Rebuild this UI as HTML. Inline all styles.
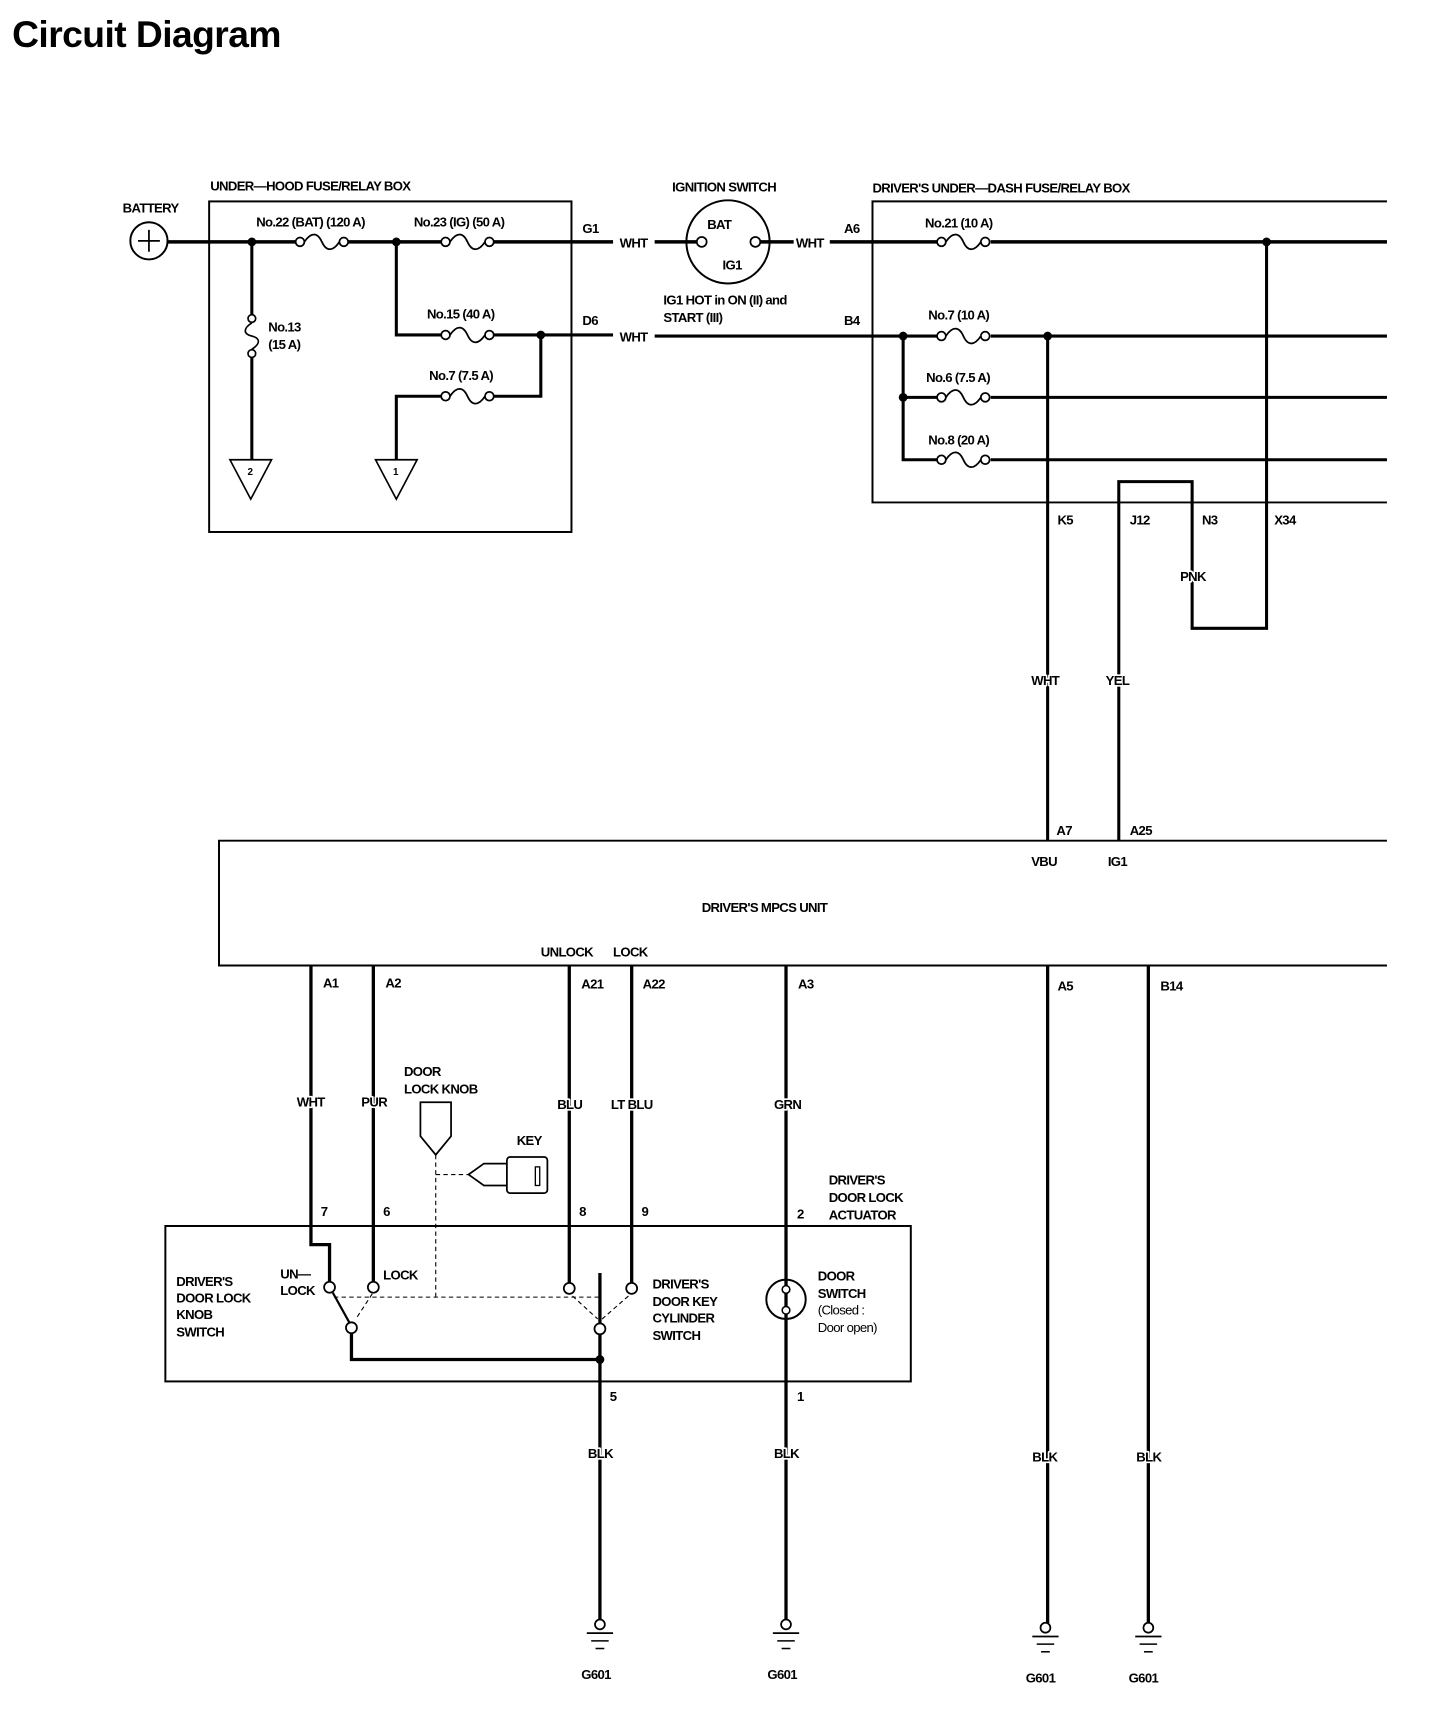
<!DOCTYPE html>
<html><head><meta charset="utf-8"><style>
html,body{margin:0;padding:0;background:#fff}
svg{display:block}
text{font-family:"Liberation Sans Narrow","Liberation Sans",sans-serif;font-weight:bold;font-size:12px;letter-spacing:-0.6px;fill:#000;stroke:#fff;stroke-width:3px;paint-order:stroke;stroke-linejoin:round}
</style></head><body>
<svg width="1456" height="1712" viewBox="0 0 1330 1564" xmlns="http://www.w3.org/2000/svg">
<defs>
<g id="fh"><circle cx="0" cy="0" r="4" fill="#fff" stroke="#000" stroke-width="1.6"/><path d="M4,0 C10,-9 16,-9 20,0 C24,9 30,9 36,0" fill="none" stroke="#000" stroke-width="1.6"/><circle cx="40" cy="0" r="4" fill="#fff" stroke="#000" stroke-width="1.6"/></g>
<g id="gnd"><circle cx="0" cy="0" r="4.5" fill="#fff" stroke="#000" stroke-width="1.6"/><line x1="-12" y1="8" x2="12" y2="8" stroke="#000" stroke-width="1.6"/><line x1="-8" y1="15" x2="8" y2="15" stroke="#000" stroke-width="1.4"/><line x1="-4" y1="22" x2="4" y2="22" stroke="#000" stroke-width="1.4"/></g>
</defs>
<text x="11" y="43" style="font-size:34px;letter-spacing:-0.5px;font-family:'Liberation Sans',sans-serif;stroke:none">Circuit Diagram</text>

<g fill="none" stroke="#000">
<rect x="191" y="184" width="331" height="302" stroke-width="1.8"/>
<polyline points="1267,184 797,184 797,459 1267,459" stroke-width="1.8"/>
<polyline points="1267,768 200,768 200,882 1267,882" stroke-width="1.8"/>
<rect x="151" y="1120" width="681" height="142" stroke-width="1.8"/>
<circle cx="136" cy="220" r="17" stroke-width="1.8"/>
<path d="M126,220H146M136,210V230" stroke-width="1.6"/>
<path d="M153,221H272M318,221H405M450,221H560M598,221H637M694,221H725M758,221H858M905,221H1267" stroke-width="3.2"/>
<circle cx="665" cy="221" r="38" stroke-width="1.8"/>
<circle cx="641" cy="221" r="4.5" fill="#fff" stroke-width="1.6"/>
<circle cx="690" cy="221" r="4.5" fill="#fff" stroke-width="1.6"/>
<path d="M230,221V288M230,326V420" stroke-width="2.8"/>
<circle cx="230" cy="291" r="3.5" fill="#fff" stroke-width="1.5"/>
<circle cx="230" cy="323" r="3.5" fill="#fff" stroke-width="1.5"/>
<path d="M230,295 C222,300 222,305 230,307 C238,309 238,314 230,319" stroke-width="1.5"/>
<polygon points="210,420 248,420 229,456" stroke-width="1.5"/>
<polygon points="343,420 381,420 362,456" stroke-width="1.5"/>
<path d="M362,221V306H405M450,306H560M598,307H858M905,307H1267" stroke-width="2.8"/>
<path d="M494,306V362H450M405,362H362V420" stroke-width="2.8"/>
<path d="M825,307V420H858M825,363H858M905,363H1267M905,420H1267" stroke-width="2.8"/>
<path d="M957,307V768M1022,768V440H1089V574H1157V221" stroke-width="2.8"/>
<path d="M284,882V1137H301V1171M341,882V1171M520,882V1172M577,882V1172M718,882V1484M957,882V1484M1049,882V1484M548,1163V1209M548,1219V1484M321,1218V1242H548" stroke-width="3"/>
<path d="M304,1181L319,1208" stroke-width="2"/>
<circle cx="301" cy="1176" r="5" fill="#fff" stroke-width="1.6"/>
<circle cx="341" cy="1176" r="5" fill="#fff" stroke-width="1.6"/>
<circle cx="321" cy="1213" r="5" fill="#fff" stroke-width="1.6"/>
<circle cx="520" cy="1177" r="5" fill="#fff" stroke-width="1.6"/>
<circle cx="577" cy="1177" r="5" fill="#fff" stroke-width="1.6"/>
<circle cx="548" cy="1214" r="5" fill="#fff" stroke-width="1.6"/>
<path d="M305,1185H548M398,1055V1185M398,1073H428M340,1182L325,1205M523,1184L546,1205M574,1184L550,1205" stroke-width="1" stroke-dasharray="4,3"/>
<circle cx="718" cy="1187" r="18" stroke-width="1.8"/>
<circle cx="718" cy="1178" r="3.5" fill="#fff" stroke-width="1.4"/>
<circle cx="718" cy="1197" r="3.5" fill="#fff" stroke-width="1.4"/>
<polygon points="384,1007 412,1007 412,1038 398,1055 384,1038" stroke-width="1.6"/>
<polyline points="463,1063 442,1063 428,1073 442,1083 463,1083" stroke-width="1.6"/>
<rect x="463" y="1057" width="37" height="33" rx="3" stroke-width="1.6"/>
<rect x="489" y="1066" width="4" height="17" stroke-width="1.2"/>
</g>
<use href="#fh" x="274" y="221"/><use href="#fh" x="407" y="221"/><use href="#fh" x="860" y="221"/>
<use href="#fh" x="407" y="306"/><use href="#fh" x="407" y="362"/>
<use href="#fh" x="860" y="307"/><use href="#fh" x="860" y="363"/><use href="#fh" x="860" y="420"/>
<g fill="#000"><circle cx="230" cy="221" r="4"/><circle cx="362" cy="221" r="4"/><circle cx="494" cy="306" r="4"/><circle cx="825" cy="307" r="4"/><circle cx="957" cy="307" r="4"/><circle cx="825" cy="363" r="4"/><circle cx="1157" cy="221" r="4"/><circle cx="548" cy="1242" r="4"/></g>
<use href="#gnd" x="548" y="1484"/><use href="#gnd" x="718" y="1484"/><use href="#gnd" x="955" y="1487"/><use href="#gnd" x="1049" y="1487"/>
<text x="112" y="194">BATTERY</text>
<text x="192" y="174">UNDER—HOOD FUSE/RELAY BOX</text>
<text x="614" y="175">IGNITION SWITCH</text>
<text x="797" y="176">DRIVER'S UNDER—DASH FUSE/RELAY BOX</text>
<text x="234" y="207">No.22 (BAT) (120 A)</text>
<text x="378" y="207">No.23 (IG) (50 A)</text>
<text x="845" y="208">No.21 (10 A)</text>
<text x="532" y="213">G1</text><text x="771" y="213">A6</text>
<text x="566" y="226">WHT</text><text x="727" y="226">WHT</text>
<text x="646" y="209">BAT</text><text x="660" y="246">IG1</text>
<text x="606" y="278">IG1 HOT in ON (II) and</text><text x="606" y="294">START (III)</text>
<text x="245" y="303">No.13</text><text x="245" y="319">(15 A)</text>
<text x="390" y="291">No.15 (40 A)</text><text x="392" y="347">No.7 (7.5 A)</text>
<text x="532" y="297">D6</text><text x="566" y="312">WHT</text><text x="771" y="297">B4</text>
<text x="226" y="434" style="font-size:9px">2</text><text x="359" y="434" style="font-size:9px">1</text>
<text x="848" y="292">No.7 (10 A)</text><text x="846" y="349">No.6 (7.5 A)</text><text x="848" y="406">No.8 (20 A)</text>
<text x="966" y="479">K5</text><text x="1032" y="479">J12</text><text x="1098" y="479">N3</text><text x="1164" y="479">X34</text>
<text x="1078" y="531">PNK</text><text x="942" y="626">WHT</text><text x="1010" y="626">YEL</text>
<text x="965" y="763">A7</text><text x="1032" y="763">A25</text><text x="942" y="791">VBU</text><text x="1012" y="791">IG1</text>
<text x="641" y="833">DRIVER'S MPCS UNIT</text>
<text x="494" y="874">UNLOCK</text><text x="560" y="874">LOCK</text>
<text x="295" y="902">A1</text><text x="352" y="902">A2</text><text x="531" y="903">A21</text><text x="587" y="903">A22</text><text x="729" y="903">A3</text><text x="966" y="905">A5</text><text x="1060" y="905">B14</text>
<text x="271" y="1011">WHT</text><text x="330" y="1011">PUR</text><text x="369" y="983">DOOR</text><text x="369" y="999">LOCK KNOB</text>
<text x="509" y="1013">BLU</text><text x="558" y="1013">LT BLU</text><text x="707" y="1013">GRN</text><text x="472" y="1046">KEY</text>
<text x="293" y="1111">7</text><text x="350" y="1111">6</text><text x="529" y="1111">8</text><text x="586" y="1111">9</text><text x="728" y="1113">2</text>
<text x="757" y="1082">DRIVER'S</text><text x="757" y="1098">DOOR LOCK</text><text x="757" y="1114">ACTUATOR</text>
<text x="161" y="1175">DRIVER'S</text><text x="161" y="1190">DOOR LOCK</text><text x="161" y="1205">KNOB</text><text x="161" y="1221">SWITCH</text>
<text x="256" y="1168">UN—</text><text x="256" y="1183">LOCK</text><text x="350" y="1169">LOCK</text>
<text x="596" y="1177">DRIVER'S</text><text x="596" y="1193">DOOR KEY</text><text x="596" y="1208">CYLINDER</text><text x="596" y="1224">SWITCH</text>
<text x="747" y="1170">DOOR</text><text x="747" y="1186">SWITCH</text><text x="747" y="1201" style="font-weight:normal">(Closed :</text><text x="747" y="1217" style="font-weight:normal">Door open)</text>
<text x="557" y="1280">5</text><text x="728" y="1280">1</text>
<text x="537" y="1332">BLK</text><text x="707" y="1332">BLK</text><text x="943" y="1335">BLK</text><text x="1038" y="1335">BLK</text>
<text x="531" y="1534">G601</text><text x="701" y="1534">G601</text><text x="937" y="1537">G601</text><text x="1031" y="1537">G601</text>
</svg>
</body></html>
